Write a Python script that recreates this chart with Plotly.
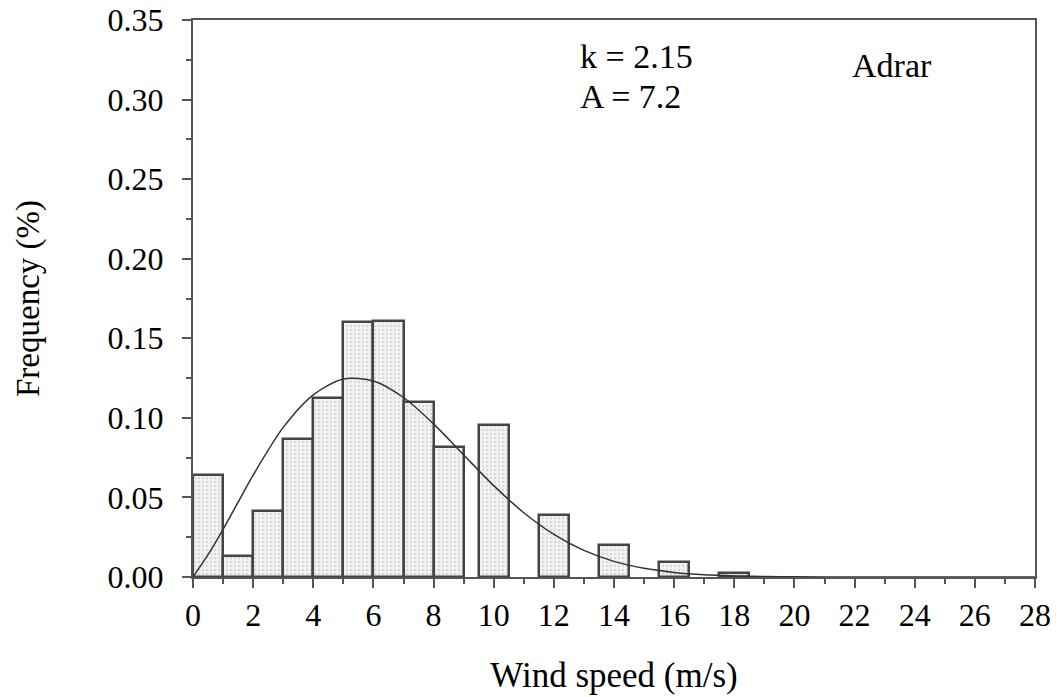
import plotly.graph_objects as go

# Histogram bars (bin centers, widths and heights)
bar_centers = [0.5, 1.5, 2.5, 3.5, 4.5, 5.5, 6.5, 7.5, 8.5, 10, 12, 14, 16, 18]
bar_heights = [0.064, 0.013, 0.0415, 0.087, 0.1125, 0.160, 0.161, 0.110, 0.0817,
               0.0955, 0.039, 0.020, 0.0094, 0.0025]
bar_width = 1.0

# Weibull fit curve
curve_x = [0, 0.5, 1, 1.5, 2, 3, 4, 5, 6, 7, 8, 9, 10, 11, 12, 13, 14, 15, 16, 17, 18, 19, 20, 22, 24, 26, 28]
curve_y = [0.0, 0.014, 0.030, 0.047, 0.064, 0.094, 0.1145, 0.1244, 0.1232, 0.1128, 0.0962,
           0.0767, 0.0574, 0.0404, 0.0268, 0.0167, 0.0098, 0.0055, 0.0029, 0.0014,
           0.0007, 0.0003, 0.0001, 0.0, 0.0, 0.0, 0.0]

x_ticks = list(range(0, 29, 2))
y_ticks = [0.0, 0.05, 0.10, 0.15, 0.20, 0.25, 0.30, 0.35]

FONT = "Liberation Serif"
LINE = "#555555"

fig = go.Figure()
fig.add_trace(go.Bar(
    x=bar_centers, y=bar_heights, width=bar_width,
    marker=dict(color="#f0f0f0",
                line=dict(color="#444444", width=2.5),
                pattern=dict(shape=".", fgcolor="#b8b8b8", bgcolor="#f2f2f2", size=4, solidity=0.25)),
    showlegend=False,
))
fig.add_trace(go.Scatter(
    x=curve_x, y=curve_y, mode="lines",
    line=dict(color="#333333", width=1.5, shape="spline", smoothing=0.8),
    showlegend=False,
))

fig.update_layout(
    width=1061, height=697,
    margin=dict(l=193, r=26, t=20, b=120),
    paper_bgcolor="white", plot_bgcolor="white",
    font=dict(family=FONT, color="black"),
    bargap=0,
    xaxis=dict(range=[0, 28], tickvals=x_ticks, ticktext=[str(v) for v in x_ticks],
               ticks="outside", ticklen=9, tickwidth=2, tickcolor=LINE,
               minor=dict(dtick=1, ticks="outside", ticklen=5, tickwidth=1.5, tickcolor=LINE, tick0=0),
               showline=True, linecolor=LINE, linewidth=2, mirror=True,
               showgrid=False, zeroline=False, automargin=False,
               tickfont=dict(family=FONT, size=32),
               title=dict(text="Wind speed (m/s)", font=dict(family=FONT, size=35), standoff=30)),
    yaxis=dict(range=[0, 0.35], tickvals=y_ticks, ticktext=[f"{v:.2f}" for v in y_ticks],
               ticks="outside", ticklen=9, tickwidth=2, tickcolor=LINE,
               minor=dict(dtick=0.025, ticks="outside", ticklen=5, tickwidth=1.5, tickcolor=LINE, tick0=0),
               showline=True, linecolor=LINE, linewidth=2, mirror=True,
               showgrid=False, zeroline=False, ticklabelstandoff=12, automargin=False,
               tickfont=dict(family=FONT, size=32),
               title=dict(text="Frequency (%)", font=dict(family=FONT, size=33), standoff=58)),
)

# Annotations positioned in pixel-converted paper coords
def px_to_paper(px, py):
    return (px - 193) / (1035 - 193), (577 - py) / (577 - 20)

ax, ay = px_to_paper(578, 57)
bx, by = px_to_paper(578, 96)
cx, cy = px_to_paper(850, 66)
for (xx, yy, t) in [(ax, ay, "k = 2.15"), (bx, by, "A = 7.2"), (cx, cy, "Adrar")]:
    fig.add_annotation(x=xx, y=yy, xref="paper", yref="paper", text=t, showarrow=False,
                       xanchor="left", yanchor="middle", font=dict(family=FONT, size=34, color="black"))

fig.write_html("out.html")
